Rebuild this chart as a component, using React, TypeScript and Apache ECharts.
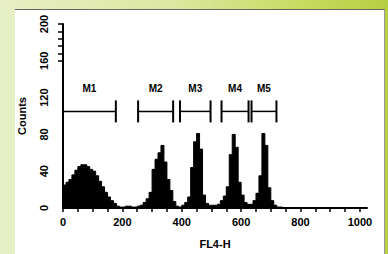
import React, { useEffect, useRef } from "react";
import * as echarts from "echarts";

// Histogram: bin starts (channel units) and counts
const binWidth = 10;
const binStarts = [
  0, 10, 20, 30, 40, 50, 60, 70, 80, 90,
  100, 110, 120, 130, 140, 150, 160, 170, 180, 190,
  200, 210, 220, 230, 240, 250, 260, 270, 280, 290,
  300, 310, 320, 330, 340, 350, 360, 370, 380, 390,
  400, 410, 420, 430, 440, 450, 460, 470, 480, 490,
  500, 510, 520, 530, 540, 550, 560, 570, 580, 590,
  600, 610, 620, 630, 640, 650, 660, 670, 680, 690,
  700, 710, 720, 730, 740,
];
const counts = [
  25, 28, 31, 36, 41, 45, 47, 47, 45, 42,
  40, 35, 29, 23, 17, 12, 8, 5, 2, 1,
  1, 2, 2, 1, 1, 2, 3, 6, 10, 17,
  42, 53, 60, 68, 50, 31, 19, 7, 2, 1,
  3, 6, 12, 44, 72, 81, 64, 14, 5, 3,
  3, 3, 4, 8, 13, 23, 58, 80, 66, 28,
  14, 6, 4, 4, 8, 16, 35, 81, 68, 22,
  8, 3, 1, 1, 0,
];

// Gate markers
const markerNames = ["M1", "M2", "M3", "M4", "M5"];
const markerStart = [0, 253, 394, 534, 635];
const markerEnd = [178, 371, 497, 625, 719];
const markerLevel = 105;

// Axes
const xLabelValues = [0, 200, 400, 600, 800, 1000];
const xTickValues = [
  0, 50, 100, 150, 200, 250, 300, 350, 400, 450, 500,
  550, 600, 650, 700, 750, 800, 850, 900, 950, 1000,
];
const yLabelValues = [0, 40, 80, 120, 160, 200];
const yTickValues = [160, 168, 176, 184, 192, 200];

export default function App() {
  const ref = useRef<HTMLDivElement>(null);

  useEffect(() => {
    if (!ref.current) return;
    const chart = echarts.init(ref.current, null, { renderer: "svg" });

    const histData: number[][] = binStarts.map((x, i) => [x, counts[i]]);
    histData.push([binStarts[binStarts.length - 1] + binWidth, 0]);

    const font = "Liberation Sans";

    chart.setOption({
      animation: false,
      backgroundColor: "transparent",
      grid: { left: 63, top: 24, right: 21, bottom: 32 },
      xAxis: {
        type: "value",
        min: 0,
        max: 1024,
        name: "FL4-H",
        nameLocation: "middle",
        nameGap: 30,
        nameTextStyle: { fontFamily: font, fontWeight: "bold", fontSize: 11, color: "#000" },
        axisLine: { show: true, lineStyle: { color: "#000", width: 2 } },
        axisTick: {
          show: true,
          customValues: xTickValues,
          length: 4,
          lineStyle: { color: "#000", width: 1.5 },
        },
        axisLabel: {
          customValues: xLabelValues,
          formatter: (v: number) => String(v),
          fontFamily: font,
          fontWeight: "bold",
          fontSize: 11,
          color: "#000",
          margin: 8,
        },
        splitLine: { show: false },
      },
      yAxis: {
        type: "value",
        min: 0,
        max: 200,
        name: "Counts",
        nameLocation: "middle",
        nameRotate: 90,
        nameGap: 36,
        nameTextStyle: { fontFamily: font, fontWeight: "bold", fontSize: 11, color: "#000" },
        axisLine: { show: true, lineStyle: { color: "#000", width: 2 } },
        axisTick: {
          show: true,
          customValues: yTickValues,
          length: 5,
          lineStyle: { color: "#000", width: 1.5 },
        },
        axisLabel: {
          customValues: yLabelValues,
          formatter: (v: number) => String(v),
          rotate: 90,
          fontFamily: font,
          fontWeight: "bold",
          fontSize: 11,
          color: "#000",
          margin: 14,
        },
        splitLine: { show: false },
      },
      series: [
        {
          type: "line",
          step: "end",
          data: histData,
          symbol: "none",
          lineStyle: { color: "#000", width: 1 },
          areaStyle: { color: "#000", opacity: 1 },
          z: 2,
        },
        {
          type: "custom",
          coordinateSystem: "cartesian2d",
          clip: false,
          z: 5,
          data: markerNames.map((_, i) => [markerStart[i], markerEnd[i], markerLevel, i]),
          encode: { x: [0, 1], y: 2 },
          renderItem: (params: any, api: any) => {
            const s = api.coord([api.value(0), api.value(2)]);
            const e = api.coord([api.value(1), api.value(2)]);
            const idx = api.value(3);
            const half = 11;
            return {
              type: "group",
              children: [
                {
                  type: "line",
                  shape: { x1: s[0], y1: s[1], x2: e[0], y2: e[1] },
                  style: { stroke: "#000", lineWidth: 1.5 },
                },
                {
                  type: "line",
                  shape: { x1: s[0], y1: s[1] - half, x2: s[0], y2: s[1] + half },
                  style: { stroke: "#000", lineWidth: 2 },
                },
                {
                  type: "line",
                  shape: { x1: e[0], y1: e[1] - half, x2: e[0], y2: e[1] + half },
                  style: { stroke: "#000", lineWidth: 2 },
                },
                {
                  type: "text",
                  x: (s[0] + e[0]) / 2,
                  y: s[1] - 23,
                  style: {
                    text: markerNames[idx],
                    align: "center",
                    verticalAlign: "middle",
                    font: `bold 10px ${font}`,
                    fill: "#000",
                  },
                },
              ],
            };
          },
        },
      ],
    });

    return () => chart.dispose();
  }, []);

  return (
    <div
      style={{
        position: "fixed",
        left: 0,
        top: 0,
        width: 388,
        height: 254,
        overflow: "hidden",
        background: "linear-gradient(90deg, #e8efc6 0%, #dbe8a0 45%, #c6da5c 80%, #b6ce44 100%)",
      }}
    >
      <div
        style={{
          position: "absolute",
          left: 0,
          top: 9,
          width: 15,
          height: 245,
          background: "#e7efc6",
        }}
      />
      <div
        style={{
          position: "absolute",
          left: 15,
          top: 9,
          width: 370,
          height: 245,
          background: "#ffffff",
          borderTop: "1px solid #666",
          borderRight: "1px solid #999",
          boxSizing: "border-box",
        }}
      />
      <div
        ref={ref}
        style={{ position: "absolute", left: 0, top: 0, width: 388, height: 254 }}
      />
    </div>
  );
}
